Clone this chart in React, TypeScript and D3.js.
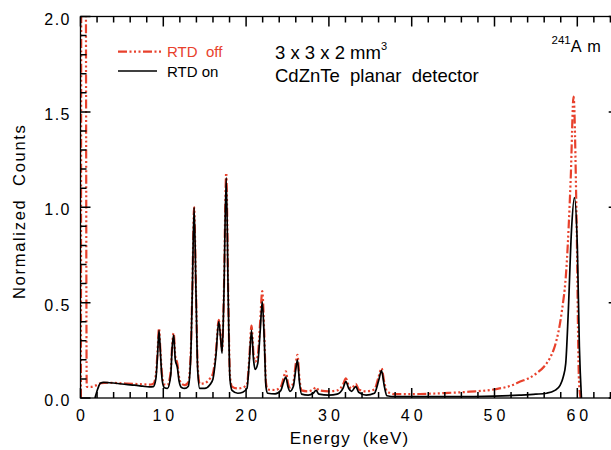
import React, { useEffect, useRef } from 'react';
import * as d3 from 'd3';

// RTD off (red, dash-dot-dot)
const energyOff = [
  0.05, 0.12, 0.6, 0.75, 1.2, 1.8, 2.5, 3.5, 4.5, 5.5, 6.5, 7.5, 8.3, 8.8,
  9.1, 9.3, 9.48, 9.65, 9.85, 10.1, 10.5, 10.9, 11.05, 11.25, 11.45, 11.7, 11.9,
  12.2, 12.6, 13.0, 13.3, 13.5, 13.72, 13.95, 14.15, 14.4, 15.0, 15.6, 16.0,
  16.35, 16.7, 16.95, 17.1, 17.3, 17.6, 17.85, 18.05, 18.3, 19.0, 19.6, 20.1,
  20.4, 20.65, 20.9, 21.1, 21.4, 21.7, 21.95, 22.2, 22.4, 22.6, 23.5, 24.2,
  24.5, 24.8, 25.05, 25.3, 25.7, 26.0, 26.2, 26.45, 26.7, 27.5, 28.1, 28.45,
  28.8, 30.0, 31.0, 31.7, 32.05, 32.4, 32.75, 33.25, 33.6, 34.5, 35.5, 36.0,
  36.35, 36.7, 37.0, 38.0, 41.0, 44.0, 47.0, 50.1, 52.0, 53.1, 54.2, 55.1,
  56.0, 56.7, 57.2, 57.5, 58.1, 58.7, 59.2, 59.55, 59.9, 60.2, 60.4
];
const countsOff = [
  0.0, 3.0, 3.0, 0.06, 0.058, 0.065, 0.078, 0.08, 0.078, 0.076, 0.074, 0.072, 0.07, 0.075,
  0.12, 0.24, 0.365, 0.25, 0.12, 0.072, 0.068, 0.14, 0.26, 0.34, 0.22, 0.18, 0.11,
  0.075, 0.068, 0.08, 0.22, 0.56, 1.0, 0.56, 0.17, 0.075, 0.078, 0.1, 0.13,
  0.24, 0.41, 0.31, 0.25, 0.52, 1.18, 0.52, 0.12, 0.06, 0.05, 0.055, 0.07,
  0.22, 0.38, 0.23, 0.19, 0.22, 0.4, 0.56, 0.33, 0.08, 0.045, 0.042, 0.06,
  0.1, 0.14, 0.08, 0.056, 0.08, 0.18, 0.226, 0.1, 0.04, 0.035, 0.045, 0.056,
  0.04, 0.035, 0.04, 0.07, 0.103, 0.065, 0.05, 0.074, 0.045, 0.035, 0.045, 0.11,
  0.156, 0.08, 0.035, 0.02, 0.021, 0.026, 0.033, 0.046, 0.065, 0.086, 0.105, 0.13,
  0.165, 0.21, 0.26, 0.305, 0.445, 0.69, 1.146, 1.58, 0.97, 0.095, 0.0
];

// RTD on (black, solid)
const energyOn = [
  1.75, 2.1, 2.4, 2.8, 3.5, 4.5, 5.5, 6.5, 7.5, 8.3, 8.8,
  9.1, 9.3, 9.48, 9.65, 9.85, 10.1, 10.5, 10.9, 11.05, 11.25, 11.45, 11.7, 11.9,
  12.2, 12.6, 13.0, 13.3, 13.5, 13.72, 13.95, 14.15, 14.4, 15.0, 15.6, 16.0,
  16.35, 16.7, 16.95, 17.1, 17.3, 17.6, 17.85, 18.05, 18.3, 19.0, 19.6, 20.1,
  20.4, 20.65, 20.9, 21.1, 21.4, 21.7, 21.95, 22.2, 22.4, 22.6, 23.5, 24.2,
  24.5, 24.8, 25.05, 25.3, 25.7, 26.0, 26.2, 26.45, 26.7, 27.5, 28.1, 28.45,
  28.8, 30.0, 31.0, 31.7, 32.05, 32.4, 32.75, 33.25, 33.6, 34.5, 35.5, 36.0,
  36.35, 36.7, 37.0, 38.0, 45.0, 50.0, 53.0, 55.0, 56.3, 57.3, 57.9, 58.3,
  58.6, 58.9, 59.3, 59.65, 60.0, 60.25, 60.5
];
const countsOn = [
  0.0, 0.05, 0.077, 0.082, 0.08, 0.076, 0.071, 0.067, 0.062, 0.058, 0.06,
  0.1, 0.22, 0.355, 0.24, 0.1, 0.055, 0.05, 0.12, 0.25, 0.33, 0.2, 0.16, 0.09,
  0.055, 0.05, 0.06, 0.2, 0.55, 1.0, 0.55, 0.15, 0.05, 0.05, 0.068, 0.1,
  0.22, 0.4, 0.3, 0.235, 0.5, 1.155, 0.5, 0.1, 0.04, 0.025, 0.03, 0.05,
  0.2, 0.355, 0.2, 0.15, 0.18, 0.35, 0.505, 0.3, 0.06, 0.025, 0.022, 0.04,
  0.08, 0.11, 0.06, 0.035, 0.06, 0.15, 0.2, 0.08, 0.02, 0.015, 0.025, 0.04,
  0.02, 0.015, 0.02, 0.05, 0.086, 0.05, 0.035, 0.06, 0.03, 0.015, 0.025, 0.09,
  0.143, 0.06, 0.012, 0.007, 0.007, 0.01, 0.015, 0.02, 0.025, 0.04, 0.065, 0.11,
  0.18, 0.44, 0.88, 1.05, 0.8, 0.27, 0.0
];

const xMajorTicks = [0, 10, 20, 30, 40, 50, 60];
const yMajorTicks = [0, 0.5, 1.0, 1.5, 2.0];

const RED = '#e8412c';
const DASH = '9,2.5,2,2.5,2,2.5,2,2.5';
const FONT = '"Liberation Sans", Arial, Helvetica, sans-serif';

const App = () => {
  const svgRef = useRef<SVGSVGElement>(null);

  useEffect(() => {
    const svg = d3.select(svgRef.current);
    svg.selectAll('*').remove();

    const left = 80.5, right = 618.7, top = 16.5, bottom = 398;
    const x = d3.scaleLinear().domain([0, 65]).range([left, right]);
    const y = d3.scaleLinear().domain([0, 2]).range([bottom, top]);

    svg.append('defs').append('clipPath').attr('id', 'plot-clip')
      .append('rect')
      .attr('x', left).attr('y', top)
      .attr('width', right - left).attr('height', bottom - top);

    const line = d3.line<[number, number]>()
      .x(d => x(d[0]))
      .y(d => y(d[1]))
      .curve(d3.curveMonotoneX);

    const offData = energyOff.map((e, i) => [e, countsOff[i]] as [number, number]);
    const onData = energyOn.map((e, i) => [e, countsOn[i]] as [number, number]);

    const plot = svg.append('g').attr('clip-path', 'url(#plot-clip)');

    plot.append('path')
      .datum(offData)
      .attr('d', line)
      .attr('fill', 'none')
      .attr('stroke', RED)
      .attr('stroke-width', 2.2)
      .attr('stroke-dasharray', DASH);

    plot.append('path')
      .datum(onData)
      .attr('d', line)
      .attr('fill', 'none')
      .attr('stroke', '#000')
      .attr('stroke-width', 1.7);

    // inward ticks on all four sides
    const xMinor = d3.range(0, 65.01, 2).filter(v => v % 10 !== 0);
    const yMinor = d3.range(1, 20).filter(i => i % 5 !== 0).map(i => i / 10);

    const p = d3.path();
    xMajorTicks.forEach(v => {
      p.moveTo(x(v), bottom); p.lineTo(x(v), bottom - 10);
      p.moveTo(x(v), top); p.lineTo(x(v), top + 10);
    });
    xMinor.forEach(v => {
      p.moveTo(x(v), bottom); p.lineTo(x(v), bottom - 6);
      p.moveTo(x(v), top); p.lineTo(x(v), top + 6);
    });
    yMajorTicks.forEach(v => {
      p.moveTo(left, y(v)); p.lineTo(left + 10, y(v));
      p.moveTo(right, y(v)); p.lineTo(right - 10, y(v));
    });
    yMinor.forEach(v => {
      p.moveTo(left, y(v)); p.lineTo(left + 6, y(v));
      p.moveTo(right, y(v)); p.lineTo(right - 6, y(v));
    });

    svg.append('path')
      .attr('d', p.toString())
      .attr('fill', 'none')
      .attr('stroke', '#000')
      .attr('stroke-width', 1.5);

    svg.append('rect')
      .attr('x', left).attr('y', top)
      .attr('width', right - left).attr('height', bottom - top)
      .attr('fill', 'none').attr('stroke', '#000').attr('stroke-width', 1.3);

    // tick labels
    svg.selectAll('.xlab')
      .data(xMajorTicks)
      .enter().append('text')
      .attr('class', 'xlab')
      .attr('x', d => x(d) + 2)
      .attr('y', 421)
      .attr('text-anchor', 'middle')
      .style('font-family', FONT)
      .style('font-size', '16px')
      .style('letter-spacing', '4px')
      .text(d => String(d));

    svg.selectAll('.ylab')
      .data(yMajorTicks)
      .enter().append('text')
      .attr('class', 'ylab')
      .attr('x', 71)
      .attr('y', d => y(d) + 8)
      .attr('text-anchor', 'end')
      .style('font-family', FONT)
      .style('font-size', '16px')
      .style('letter-spacing', '1.5px')
      .text(d => d.toFixed(1));

    // axis titles
    svg.append('text')
      .attr('x', (left + right) / 2)
      .attr('y', 444)
      .attr('text-anchor', 'middle')
      .style('font-family', FONT)
      .style('font-size', '17px')
      .style('letter-spacing', '1.2px')
      .style('white-space', 'pre')
      .text('Energy  (keV)');

    svg.append('text')
      .attr('transform', `translate(25, ${(top + bottom) / 2 + 4}) rotate(-90)`)
      .attr('text-anchor', 'middle')
      .style('font-family', FONT)
      .style('font-size', '16.5px')
      .style('letter-spacing', '1.7px')
      .style('white-space', 'pre')
      .text('Normalized  Counts');

    // legend
    svg.append('line')
      .attr('x1', 118).attr('x2', 163).attr('y1', 51.7).attr('y2', 51.7)
      .attr('stroke', RED).attr('stroke-width', 2.2)
      .attr('stroke-dasharray', DASH);
    svg.append('text')
      .attr('x', 167).attr('y', 57.3)
      .attr('fill', RED)
      .style('font-family', FONT)
      .style('font-size', '15px')
      .style('white-space', 'pre')
      .text('RTD  off');
    svg.append('line')
      .attr('x1', 118).attr('x2', 157).attr('y1', 71).attr('y2', 71)
      .attr('stroke', '#000').attr('stroke-width', 1.6);
    svg.append('text')
      .attr('x', 167).attr('y', 77.3)
      .style('font-family', FONT)
      .style('font-size', '15px')
      .text('RTD on');

    // annotations
    const t1 = svg.append('text')
      .attr('x', 275).attr('y', 59.3)
      .style('font-family', FONT)
      .style('font-size', '18.5px')
      .style('white-space', 'pre');
    t1.append('tspan').text('3 x 3 x 2 mm');
    t1.append('tspan').attr('dy', -9).style('font-size', '11px').text('3');

    svg.append('text')
      .attr('x', 275).attr('y', 81.7)
      .style('font-family', FONT)
      .style('font-size', '18.5px')
      .style('white-space', 'pre')
      .text('CdZnTe  planar  detector');

    const t2 = svg.append('text')
      .attr('x', 551.5).attr('y', 51.7)
      .style('font-family', FONT)
      .style('white-space', 'pre');
    t2.append('tspan').attr('dy', -8).style('font-size', '11.5px').text('241');
    t2.append('tspan').attr('dy', 8).style('font-size', '16.3px').style('letter-spacing', '1px').text('A m');
  }, []);

  return (
    <div style={{ position: 'absolute', left: 0, top: 0 }}>
      <svg ref={svgRef} width={611} height={450} style={{ display: 'block', background: '#fff' }} />
    </div>
  );
};

export default App;
